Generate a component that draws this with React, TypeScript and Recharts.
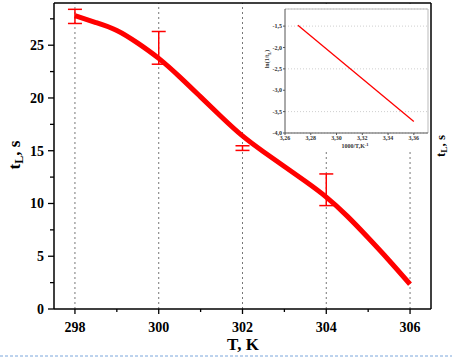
import React from "react";
import {
  ComposedChart,
  LineChart,
  Line,
  Scatter,
  ErrorBar,
  XAxis,
  YAxis,
  CartesianGrid,
  ReferenceLine,
} from "recharts";

// main curve: t_L (s) vs T (K)
const temps = [298, 298.5, 299, 299.5, 300, 300.5, 301, 301.5, 302, 302.5, 303, 303.5, 304, 304.5, 305, 305.5, 306];
const tL = [27.8, 27.15, 26.4, 25.2, 23.75, 22.0, 20.1, 18.2, 16.4, 14.9, 13.5, 12.1, 10.6, 8.8, 6.75, 4.6, 2.35];

// measured points with error bars
const errTemps = [298, 300, 302, 304];
const errMeans = [27.73, 24.75, 15.25, 11.3];
const errHalf = [0.67, 1.55, 0.22, 1.5];

// inset: ln(1/t_L) vs 1000/T
const invT = [3.27, 3.36];
const lnInv = [-1.48, -3.73];

const xTicks = [298, 299, 300, 301, 302, 303, 304, 305, 306];
const yTicks = [0, 2.5, 5, 7.5, 10, 12.5, 15, 17.5, 20, 22.5, 25, 27.5];
const gridX = [298, 300, 302, 304, 306];
const insetXTicks = [3.26, 3.28, 3.3, 3.32, 3.34, 3.36];
const insetYTicks = [-4, -3.5, -3, -2.5, -2, -1.5];

const curve = temps.map((T, i) => ({ T, t: tL[i] }));
const errData = errTemps.map((T, i) => ({ T, t: errMeans[i], err: errHalf[i] }));
const insetData = invT.map((x, i) => ({ x, y: lnInv[i] }));

const font = "'Liberation Serif', 'Times New Roman', serif";
const RED = "#ff0000";

const YTick = (props: any) => {
  const { x, y, payload } = props;
  const major = payload.value % 5 === 0;
  return (
    <g>
      <line x1={x} y1={y} x2={x - (major ? 6 : 4)} y2={y} stroke="#000" strokeWidth={1.3} />
      {major && (
        <text x={x - 10} y={y} dy={5} textAnchor="end" fontFamily={font} fontWeight="bold" fontSize={14} fill="#000">
          {payload.value}
        </text>
      )}
    </g>
  );
};

const XTick = (props: any) => {
  const { x, y, payload } = props;
  const major = payload.value % 2 === 0;
  return (
    <g>
      <line x1={x} y1={y} x2={x} y2={y + (major ? 5 : 3)} stroke="#000" strokeWidth={1.3} />
      {major && (
        <text x={x} y={y + 23} textAnchor="middle" fontFamily={font} fontWeight="bold" fontSize={14} fill="#000">
          {payload.value}
        </text>
      )}
    </g>
  );
};

const noShape = () => <g />;

function Inset() {
  return (
    <div style={{ position: "absolute", left: 266, top: 5, width: 163, height: 145, background: "#fff" }}>
      <LineChart width={163} height={145} data={insetData} margin={{ top: 4, right: 1, left: 0, bottom: 0 }}>
        <CartesianGrid vertical={false} stroke="#cfcfcf" strokeDasharray="1 2" />
        <XAxis
          dataKey="x"
          type="number"
          domain={[3.26, 3.371]}
          ticks={insetXTicks}
          tickFormatter={(v: number) => v.toFixed(2).replace(".", ",")}
          height={17}
          stroke="#555"
          tickSize={2}
          tickMargin={1}
          tick={{ fontSize: 6, fontFamily: font, fontWeight: "bold", fill: "#333" }}
          allowDataOverflow
        />
        <YAxis
          dataKey="y"
          type="number"
          domain={[-4, -1.1]}
          ticks={insetYTicks}
          tickFormatter={(v: number) => v.toFixed(1).replace(".", ",")}
          width={19}
          stroke="#555"
          tickSize={2}
          tickMargin={1}
          tick={{ fontSize: 6, fontFamily: font, fontWeight: "bold", fill: "#333" }}
          allowDataOverflow
        />
        <ReferenceLine y={-1.1} stroke="#bbb" />
        <ReferenceLine x={3.371} stroke="#bbb" />
        <Line type="linear" dataKey="y" stroke={RED} strokeWidth={1.3} dot={false} isAnimationActive={false} />
      </LineChart>
      <svg width={163} height={145} style={{ position: "absolute", left: 0, top: 0, pointerEvents: "none", overflow: "visible" }}>
        <text x={3} y={54} transform="rotate(-90, 3, 54)" textAnchor="middle" fontFamily={font} fontWeight="bold" fontSize={6} fill="#333">
          ln(1/t<tspan dy={1.5} fontSize={4.5}>L</tspan><tspan dy={-1.5}>)</tspan>
        </text>
        <text x={89} y={143} textAnchor="middle" fontFamily={font} fontWeight="bold" fontSize={6} fill="#333">
          1000/T,K<tspan dy={-2} fontSize={4.5}>-1</tspan>
        </text>
      </svg>
    </div>
  );
}

export default function App() {
  return (
    <div style={{ position: "absolute", left: 0, top: 0, width: 452, height: 359, background: "#fff" }}>
      <ComposedChart width={452} height={359} data={curve} margin={{ top: 3, right: 21, left: 0, bottom: 0 }}>
        <XAxis
          dataKey="T"
          type="number"
          domain={[297.5, 306.5]}
          ticks={xTicks}
          tick={<XTick />}
          tickLine={false}
          tickSize={0}
          tickMargin={0}
          height={50}
          stroke="#000"
          strokeWidth={1.5}
          interval={0}
          allowDataOverflow
        />
        <YAxis
          dataKey="t"
          type="number"
          domain={[0, 29]}
          ticks={yTicks}
          tick={<YTick />}
          tickLine={false}
          tickSize={0}
          tickMargin={0}
          width={54}
          stroke="#000"
          strokeWidth={1.5}
          interval={0}
          allowDataOverflow
        />
        {gridX.map((g) => (
          <ReferenceLine key={g} x={g} stroke="#777" strokeDasharray="2 3" />
        ))}
        <ReferenceLine y={29} stroke="#000" strokeWidth={1.5} />
        <ReferenceLine x={306.5} stroke="#000" strokeWidth={1.5} />
        <Line type="natural" dataKey="t" stroke={RED} strokeWidth={5} dot={false} isAnimationActive={false} />
        <Scatter data={errData} dataKey="t" shape={noShape} isAnimationActive={false}>
          <ErrorBar dataKey="err" direction="y" width={7} stroke={RED} strokeWidth={1.5} />
        </Scatter>
      </ComposedChart>
      <Inset />
      <svg width={452} height={359} style={{ position: "absolute", left: 0, top: 0, pointerEvents: "none" }}>
        <text x={20} y={155} transform="rotate(-90, 20, 155)" textAnchor="middle" fontFamily={font} fontWeight="bold" fontSize={17} fill="#000">
          t<tspan dy={3} fontSize={12}>L</tspan><tspan dy={-3}>, s</tspan>
        </text>
        <text x={445} y={146} transform="rotate(-90, 445, 146)" textAnchor="middle" fontFamily={font} fontWeight="bold" fontSize={13} fill="#000">
          t<tspan dy={2} fontSize={9}>L</tspan><tspan dy={-2}>, s</tspan>
        </text>
        <text x={243} y={350} textAnchor="middle" fontFamily={font} fontWeight="bold" fontSize={17} fill="#000">
          T, K
        </text>
        <line x1={0} y1={356} x2={452} y2={356} stroke="#7aa6dc" strokeDasharray="3 2" strokeWidth={1} />
      </svg>
    </div>
  );
}
